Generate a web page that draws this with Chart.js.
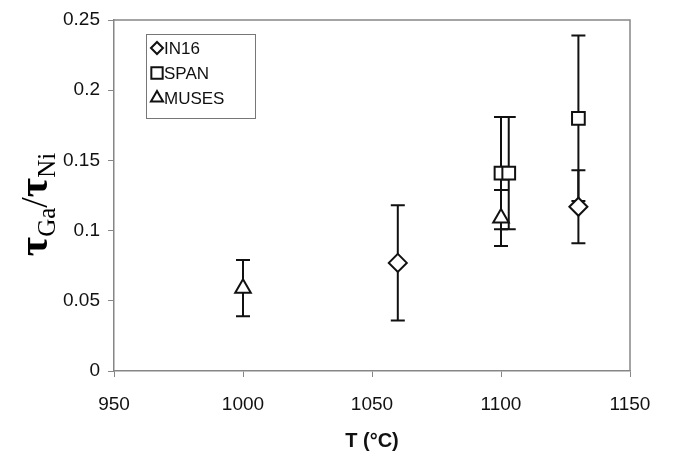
<!DOCTYPE html>
<html>
<head>
<meta charset="utf-8">
<script src="https://cdn.jsdelivr.net/npm/chart.js@4/dist/chart.umd.min.js"></script>
<style>
    html, body { margin: 0; padding: 0; background: #fff; }
    #wrap { width: 674px; height: 459px; }
</style>
</head>
<body>
<div id="wrap"><canvas id="ratioChart" width="674" height="459"></canvas></div>
<script>
// temperature (°C), ratio and +/- error for each instrument
const in16T = [1060, 1130];
const in16Ratio = [0.077, 0.117];
const in16Err = [0.041, 0.026];

const spanT = [1100, 1103, 1130];
const spanRatio = [0.141, 0.141, 0.180];
const spanErr = [0.040, 0.040, 0.059];

const musesT = [1000, 1100];
const musesRatio = [0.059, 0.109];
const musesErr = [0.020, 0.020];

const xTicks = [950, 1000, 1050, 1100, 1150];
const yTicks = [0, 0.05, 0.1, 0.15, 0.2, 0.25];

const AXIS_GREY = '#868686';
const INK = '#111';

function toPoints(xs, ys) {
    return xs.map((x, i) => ({ x: x, y: ys[i] }));
}

// vertical error bars with caps, drawn under the markers
const errorBars = {
    id: 'errorBars',
    beforeDatasetsDraw(chart) {
        const ctx = chart.ctx;
        const xs = chart.scales.x, ys = chart.scales.y;
        ctx.save();
        ctx.strokeStyle = INK;
        ctx.lineWidth = 2;
        chart.data.datasets.forEach(ds => {
            ds.data.forEach((p, i) => {
                const e = ds.errors[i];
                const px = xs.getPixelForValue(p.x);
                const top = ys.getPixelForValue(p.y + e);
                const bot = ys.getPixelForValue(p.y - e);
                ctx.beginPath();
                ctx.moveTo(px, top); ctx.lineTo(px, bot);
                ctx.moveTo(px - 7, top); ctx.lineTo(px + 7, top);
                ctx.moveTo(px - 7, bot); ctx.lineTo(px + 7, bot);
                ctx.stroke();
            });
        });
        ctx.restore();
    }
};

// top/right frame, boxed legend and the tau ratio title
const decorations = {
    id: 'decorations',
    afterDraw(chart) {
        const ctx = chart.ctx;
        const a = chart.chartArea;
        ctx.save();

        ctx.strokeStyle = AXIS_GREY;
        ctx.lineWidth = 1.5;
        ctx.beginPath();
        ctx.moveTo(a.left, a.top); ctx.lineTo(a.right, a.top); ctx.lineTo(a.right, a.bottom);
        ctx.stroke();

        // legend box
        const bx = 146, by = 34, bw = 109, bh = 84;
        ctx.strokeStyle = '#777';
        ctx.lineWidth = 1;
        ctx.strokeRect(bx + 0.5, by + 0.5, bw, bh);
        ctx.font = '17px "Liberation Sans", Arial, sans-serif';
        ctx.textBaseline = 'middle';
        ctx.fillStyle = INK;
        chart.data.datasets.forEach((ds, i) => {
            const cy = by + 14 + i * 25;
            ctx.strokeStyle = INK;
            ctx.fillStyle = '#fff';
            ctx.lineWidth = 2;
            Chart.helpers.drawPoint(ctx, {
                pointStyle: ds.pointStyle,
                radius: ds.legendRadius,
                borderWidth: 2
            }, bx + 11, cy);
            ctx.fillStyle = INK;
            ctx.fillText(ds.label, bx + 18, cy + 1);
        });

        // y title: tau_Ga / tau_Ni, rotated
        const big = 'bold 42px "Liberation Serif", "Times New Roman", serif';
        const sub = '25px "Liberation Serif", "Times New Roman", serif';
        const parts = [
            { t: 'τ', f: big, dy: 0 },
            { t: 'Ga', f: sub, dy: 8 },
            { t: '/', f: '38px "Liberation Serif", serif', dy: 0 },
            { t: 'τ', f: big, dy: 0 },
            { t: 'Ni', f: sub, dy: 8 }
        ];
        let total = 0;
        parts.forEach(p => { ctx.font = p.f; p.w = ctx.measureText(p.t).width; total += p.w; });
        ctx.translate(47, (a.top + a.bottom) / 2 + 9);
        ctx.rotate(-Math.PI / 2);
        ctx.textBaseline = 'alphabetic';
        ctx.textAlign = 'left';
        ctx.fillStyle = '#000';
        let cx = -total / 2;
        parts.forEach(p => {
            ctx.font = p.f;
            ctx.fillText(p.t, cx, p.dy);
            cx += p.w;
        });
        ctx.restore();
    }
};

const ctxRatio = document.getElementById('ratioChart').getContext('2d');
const ratioChart = new Chart(ctxRatio, {
    type: 'scatter',
    data: {
        datasets: [{
            label: 'IN16',
            data: toPoints(in16T, in16Ratio),
            errors: in16Err,
            pointStyle: 'rectRot',
            pointRadius: 9,
            legendRadius: 6,
        }, {
            label: 'SPAN',
            data: toPoints(spanT, spanRatio),
            errors: spanErr,
            pointStyle: 'rect',
            pointRadius: 9,
            legendRadius: 8,
        }, {
            label: 'MUSES',
            data: toPoints(musesT, musesRatio),
            errors: musesErr,
            pointStyle: 'triangle',
            pointRadius: 9,
            legendRadius: 7,
        }].map(ds => Object.assign(ds, {
            backgroundColor: '#fff',
            borderColor: INK,
            borderWidth: 2,
            pointBackgroundColor: '#fff',
            pointBorderColor: INK,
            pointBorderWidth: 2,
            showLine: false
        }))
    },
    plugins: [errorBars, decorations],
    options: {
        responsive: false,
        animation: false,
        layout: { padding: { left: 0, right: 44, top: 20, bottom: 0 } },
        plugins: {
            legend: { display: false },
            tooltip: { enabled: false }
        },
        scales: {
            x: {
                type: 'linear',
                min: 950,
                max: 1150,
                afterBuildTicks: s => { s.ticks = xTicks.map(v => ({ value: v })); },
                afterFit: s => { s.height = 88; },
                grid: { drawOnChartArea: false, drawTicks: true, tickLength: 6, color: AXIS_GREY },
                border: { display: true, color: AXIS_GREY, width: 1.5 },
                ticks: {
                    color: INK,
                    padding: 16,
                    font: { family: '"Liberation Sans", Arial, sans-serif', size: 19 },
                    callback: v => String(v)
                },
                title: {
                    display: true,
                    text: 'T (°C)',
                    color: INK,
                    padding: { top: 0, bottom: 6 },
                    font: { family: '"Liberation Sans", Arial, sans-serif', size: 20, weight: 'bold' }
                }
            },
            y: {
                min: 0,
                max: 0.25,
                afterBuildTicks: s => { s.ticks = yTicks.map(v => ({ value: v })); },
                afterFit: s => { s.width = 114; },
                grid: { drawOnChartArea: false, drawTicks: true, tickLength: 6, color: AXIS_GREY },
                border: { display: true, color: AXIS_GREY, width: 1.5 },
                ticks: {
                    color: INK,
                    padding: 8,
                    font: { family: '"Liberation Sans", Arial, sans-serif', size: 19 },
                    callback: v => String(+v.toFixed(2))
                }
            }
        }
    }
});
</script>
</body>
</html>
